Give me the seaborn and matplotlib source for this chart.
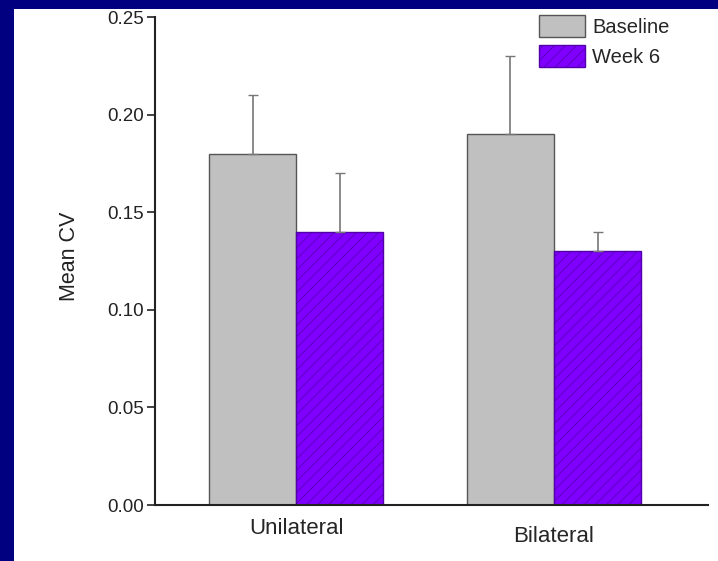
import matplotlib
matplotlib.use("Agg")
import matplotlib.pyplot as plt
import seaborn as sns
import pandas as pd
import numpy as np
from matplotlib.patches import Rectangle
from matplotlib.transforms import ScaledTranslation

categories = ["Unilateral", "Bilateral"]
series = ["Baseline", "Week 6"]
baseline_values = [0.18, 0.19]
week6_values = [0.14, 0.13]
baseline_err = [0.03, 0.04]
week6_err = [0.03, 0.01]
yticks = [0.00, 0.05, 0.10, 0.15, 0.20, 0.25]

df = pd.DataFrame({
    "group": categories * 2,
    "series": [series[0]] * 2 + [series[1]] * 2,
    "value": baseline_values + week6_values,
    "err": baseline_err + week6_err,
})

sns.set_style("white")
plt.rcParams['font.family'] = ['Liberation Sans', 'DejaVu Sans']
plt.rcParams['hatch.linewidth'] = 0.5

fig = plt.figure(figsize=(7.18, 5.61), dpi=100, facecolor="white")
# blue slide border
fig.patches.append(Rectangle((0, 0), 14 / 718, 1, transform=fig.transFigure,
                             facecolor="#000080", edgecolor="none", zorder=0))
fig.patches.append(Rectangle((0, 1 - 9 / 561), 1, 9 / 561, transform=fig.transFigure,
                             facecolor="#000080", edgecolor="none", zorder=0))

ax = fig.add_axes([155 / 718, 1 - 505 / 561, (708 - 155) / 718, (505 - 17) / 561])

palette = {"Baseline": "#C0C0C0", "Week 6": "#7F00FF"}
sns.barplot(data=df, x="group", y="value", hue="series", order=categories,
            hue_order=series, palette=palette, width=0.675, saturation=1,
            errorbar=None, ax=ax, legend=True)

edgecols = {"Baseline": "#555555", "Week 6": "#5200A8"}
for cont, name in zip(ax.containers, series):
    sub = df[df["series"] == name].set_index("group").loc[categories]
    for bar, err in zip(cont, sub["err"]):
        bar.set_edgecolor(edgecols[name])
        bar.set_linewidth(1.0)
        if name == "Week 6":
            bar.set_hatch("///")
        xc = bar.get_x() + bar.get_width() / 2
        h = bar.get_height()
        ax.errorbar([xc], [h], yerr=[[0], [err]], fmt="none", ecolor="#777777",
                    elinewidth=1.2, capsize=3.5, capthick=1.0, zorder=1)

ax.set_xlim(-0.547, 1.597)
ax.set_ylim(0, 0.25)
ax.set_yticks(yticks)
ax.set_yticklabels([f"{t:.2f}" for t in yticks], fontsize=13.5, color="#222222")
ax.set_xlabel("")
ax.set_ylabel("Mean CV", fontsize=15.5, color="#222222")
ax.yaxis.set_label_coords(-0.135, 0.51)
ax.tick_params(axis="y", direction="out", length=6, width=1.2, color="#222222",
               left=True, pad=2)
ax.tick_params(axis="x", length=0, labelsize=16, pad=9)
lbls = ax.get_xticklabels()
lbls[1].set_transform(lbls[1].get_transform() + ScaledTranslation(0, -8 / 100, fig.dpi_scale_trans))

for s in ["top", "right"]:
    ax.spines[s].set_visible(False)
for s in ["left", "bottom"]:
    ax.spines[s].set_color("#222222")
    ax.spines[s].set_linewidth(1.5)

leg = ax.legend(loc="upper left", bbox_to_anchor=(0.68, 1.02), frameon=False,
                fontsize=14.5, handlelength=2.3, handleheight=1.3, handletextpad=0.35,
                labelspacing=0.4, borderaxespad=0)
for h, name in zip(leg.legend_handles, series):
    h.set_edgecolor(edgecols[name])
    if name == "Week 6":
        h.set_hatch("///")

fig.savefig("out.png", dpi=100, facecolor="white")
